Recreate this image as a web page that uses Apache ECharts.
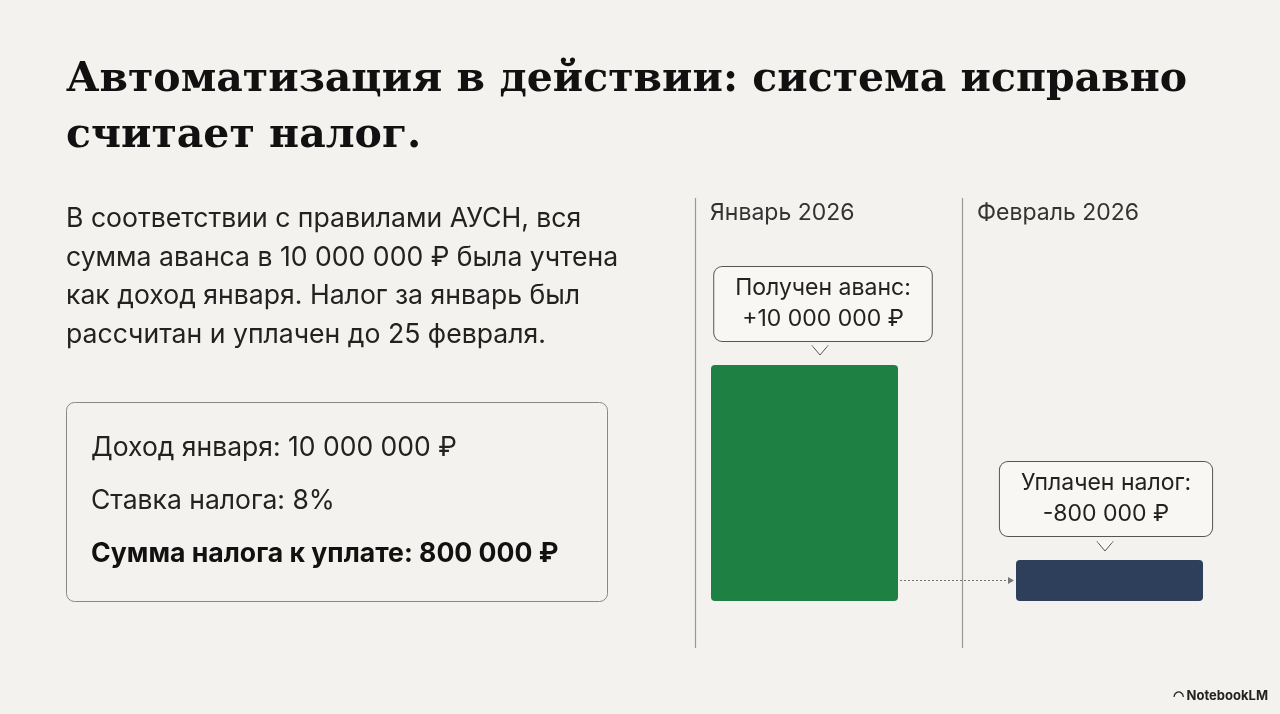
<!DOCTYPE html>
<html>
<head>
<meta charset="utf-8">
<script src="https://cdn.jsdelivr.net/npm/echarts@6/dist/echarts.min.js"></script>
<style>html,body{margin:0;background:#f3f2ee;}</style>
</head>
<body>
<div id="main" style="width:1280px;height:714px;"></div>
<script>
var months = ['Январь 2026', 'Февраль 2026'];
var amounts = [10000000, -800000];
var callouts = ['Получен аванс:\n+10 000 000 ₽', 'Уплачен налог:\n-800 000 ₽'];
var barColors = ['#1e8143', '#2d3f5b'];

var chart = echarts.init(document.getElementById('main'));
var sans = 'Inter, "Noto Sans", sans-serif';

function fmt(v) { return v.toLocaleString('ru-RU').replace(/\u00a0|,/g, ' '); }

var option = {
    backgroundColor: '#f3f2ee',
    animation: false,
    grid: { left: 652, right: 18, top: 365, bottom: 113 },
    xAxis: {
        type: 'category', data: months, position: 'top',
        axisLine: { show: false }, axisTick: { show: false }, splitLine: { show: false },
        axisLabel: { show: false }
    },
    yAxis: { type: 'value', min: 0, max: 10000000, show: false },
    series: [{
        type: 'bar',
        barWidth: 187,
        barMinHeight: 41,
        data: amounts.map(function (v, i) {
            return {
                value: Math.abs(v),
                itemStyle: { color: barColors[i], borderRadius: 4 },
                label: { offset: i === 0 ? [18.5, -19] : [-3.5, -19] }
            };
        }),
        label: {
            show: true, position: 'top',
            formatter: function (p) { return callouts[p.dataIndex]; },
            fontFamily: sans, fontSize: 23, lineHeight: 31, color: '#222', align: 'center',
            backgroundColor: '#f8f7f3', borderColor: '#555', borderWidth: 1, borderRadius: 8,
            padding: [6, 21, 6, 21]
        }
    }],
    graphic: [
        { type: 'text', left: 66, top: 52, style: { text: 'Автоматизация в действии: система исправно\nсчитает налог.', font: 'bold 41px "DejaVu Serif", serif', lineHeight: 56, fill: '#111' } },
        { type: 'text', left: 66, top: 200, style: { text: 'В соответствии с правилами АУСН, вся\nсумма аванса в ' + fmt(amounts[0]) + ' ₽ была учтена\nкак доход января. Налог за январь был\nрассчитан и уплачен до 25 февраля.', font: '26.6px ' + sans, lineHeight: 38.5, fill: '#222' } },
        { type: 'rect', shape: { x: 66.5, y: 402.5, width: 541, height: 199, r: 8 }, style: { fill: 'none', stroke: '#888', lineWidth: 1 } },
        { type: 'text', left: 91, top: 435, style: { text: 'Доход января: ' + fmt(amounts[0]) + ' ₽', font: '26.5px ' + sans, fill: '#222' } },
        { type: 'text', left: 91, top: 488, style: { text: 'Ставка налога: 8%', font: '26.5px ' + sans, fill: '#222' } },
        { type: 'text', left: 91, top: 540, style: { text: 'Сумма налога к уплате: ' + fmt(-amounts[1]) + ' ₽', font: 'bold 26.6px ' + sans, fill: '#111' } },
        { type: 'line', shape: { x1: 695.5, y1: 198, x2: 695.5, y2: 648 }, style: { stroke: '#999', lineWidth: 1.2 } },
        { type: 'line', shape: { x1: 962.5, y1: 198, x2: 962.5, y2: 648 }, style: { stroke: '#999', lineWidth: 1.2 } },
        { type: 'text', left: 710, top: 202, style: { text: months[0], font: '23px ' + sans, fill: '#333' } },
        { type: 'text', left: 977, top: 202, style: { text: months[1], font: '23px ' + sans, fill: '#333' } },
        { type: 'polygon', shape: { points: [[812, 345.5], [828, 345.5], [820, 355]] }, style: { fill: '#f8f7f3', stroke: '#555', lineWidth: 1 }, z: 100 },
        { type: 'line', shape: { x1: 812.5, y1: 345.5, x2: 827.5, y2: 345.5 }, style: { stroke: '#f8f7f3', lineWidth: 2 }, z: 101 },
        { type: 'polygon', shape: { points: [[1097, 541.5], [1113, 541.5], [1105, 551]] }, style: { fill: '#f8f7f3', stroke: '#555', lineWidth: 1 }, z: 100 },
        { type: 'line', shape: { x1: 1097.5, y1: 541.5, x2: 1112.5, y2: 541.5 }, style: { stroke: '#f8f7f3', lineWidth: 2 }, z: 101 },
        { type: 'line', shape: { x1: 900, y1: 580.5, x2: 1010, y2: 580.5 }, style: { stroke: '#777', lineWidth: 1, lineDash: [2, 2] } },
        { type: 'polygon', shape: { points: [[1008, 577], [1014, 580.5], [1008, 584]] }, style: { fill: '#777' } },
        { type: 'text', right: 12, top: 690, style: { text: '◠ NotebookLM', font: 'bold 13px ' + sans, fill: '#222' } }
    ]
};
chart.setOption(option);
</script>
</body>
</html>
